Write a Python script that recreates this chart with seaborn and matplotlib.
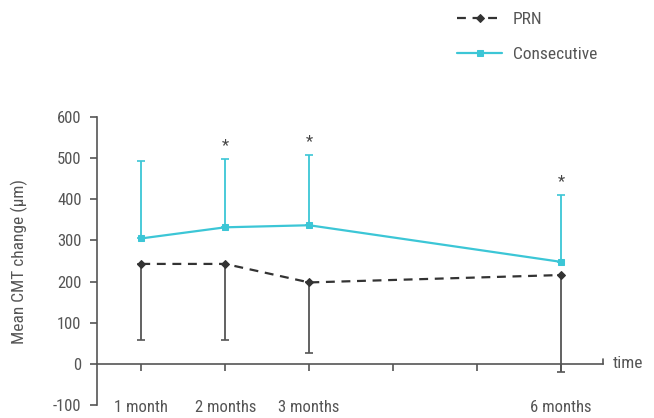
import numpy as np
import pandas as pd
import seaborn as sns
import matplotlib.pyplot as plt

months = [1, 2, 3, 6]
tick_months = [1, 2, 3, 4, 5, 6]
tick_labels = ["1 month", "2 months", "3 months", "", "", "6 months"]

prn_mean = [243, 243, 198, 216]
prn_sd = [185, 185, 172, 235]
cons_mean = [305, 332, 337, 248]
cons_sd = [188, 166, 171, 162]
star_months = [2, 3, 6]

sns.set_style("white")
plt.rcParams["font.family"] = ["Roboto Condensed", "DejaVu Sans"]
plt.rcParams["font.stretch"] = "condensed"
plt.rcParams["axes.unicode_minus"] = False

grey = "#555555"
cyan = "#3cc6d6"

df = pd.DataFrame({
    "time": months * 2,
    "value": prn_mean + cons_mean,
    "group": ["PRN"] * 4 + ["Consecutive"] * 4,
})

fig = plt.figure(figsize=(6.54, 4.18), dpi=100)
ax = fig.add_axes([0.148, 0.031, 0.774, 0.689])

# error bars (one-sided)
ax.errorbar(months, prn_mean, yerr=[prn_sd, [0] * 4], fmt="none",
            ecolor="#555555", elinewidth=1.3, capsize=3, capthick=1.2, zorder=1)
ax.errorbar(months, cons_mean, yerr=[[0] * 4, cons_sd], fmt="none",
            ecolor=cyan, elinewidth=1.3, capsize=3, capthick=1.2, zorder=1)

sns.lineplot(data=df[df.group == "PRN"], x="time", y="value", ax=ax,
             color="#333333", linestyle=(0, (4, 3)), lw=1.6, marker="D",
             markersize=4.5, markeredgecolor="#333333", label="PRN", zorder=3)
sns.lineplot(data=df[df.group == "Consecutive"], x="time", y="value", ax=ax,
             color=cyan, lw=1.6, marker="s", markersize=5,
             markeredgecolor=cyan, label="Consecutive", zorder=3)

# significance stars
for m in star_months:
    i = months.index(m)
    ax.text(m, cons_mean[i] + cons_sd[i] + 14, "*", ha="center", va="bottom",
            color="#444444", fontsize=12)

ax.set_xlim(0.47, 6.5)
ax.set_ylim(-100, 600)
ax.set_yticks(range(-100, 601, 100))
ax.set_xticks(tick_months)
ax.set_xticklabels(tick_labels)
ax.set_xlabel("")
ax.set_ylabel("Mean CMT change (µm)", color=grey, fontsize=12.5, labelpad=18)

for s in ["top", "right"]:
    ax.spines[s].set_visible(False)
ax.spines["bottom"].set_position(("data", 0))
ax.spines["left"].set_color(grey)
ax.spines["bottom"].set_color(grey)
ax.spines["left"].set_linewidth(1.2)
ax.spines["bottom"].set_linewidth(1.2)

ax.tick_params(axis="y", direction="out", length=5, width=1.2, color=grey,
               labelcolor=grey, labelsize=12, left=True, pad=6)
ax.tick_params(axis="x", direction="out", length=5, width=1.2, color=grey,
               labelcolor=grey, labelsize=12, pad=21, bottom=True)

# small end tick on time axis
ax.plot([6.5, 6.5], [0, 12], color=grey, lw=1.2, clip_on=False)
ax.text(6.62, 0, "time", color=grey, fontsize=12.5, va="center", ha="left")

leg = ax.legend(loc="upper left", bbox_to_anchor=(0.675, 1.01),
                bbox_transform=fig.transFigure, frameon=False, fontsize=12.5,
                handlelength=2.6, handletextpad=0.6, labelspacing=1.15,
                labelcolor=grey)

fig.savefig("out.png", dpi=100)
